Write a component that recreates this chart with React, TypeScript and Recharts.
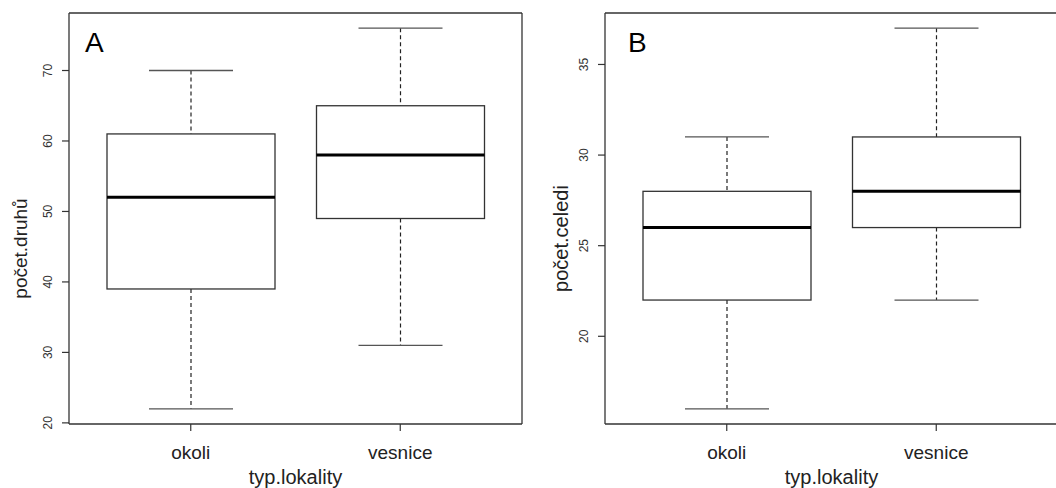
import React from 'react';
import { ComposedChart, Bar, XAxis, YAxis, Label } from 'recharts';

const categories = ['okoli', 'vesnice'];

const druhyMin = [22, 31];
const druhyQ1 = [39, 49];
const druhyMedian = [52, 58];
const druhyQ3 = [61, 65];
const druhyMax = [70, 76];
const druhyTicks = [20, 30, 40, 50, 60, 70];

const celediMin = [16, 22];
const celediQ1 = [22, 26];
const celediMedian = [26, 28];
const celediQ3 = [28, 31];
const celediMax = [31, 37];
const celediTicks = [20, 25, 30, 35];

const FONT = '"Liberation Sans", Arial, sans-serif';

const build = (mn: number[], q1: number[], md: number[], q3: number[], mx: number[]) =>
  categories.map((name, i) => ({ name, min: mn[i], q1: q1[i], median: md[i], q3: q3[i], max: mx[i] }));

const druhyData = build(druhyMin, druhyQ1, druhyMedian, druhyQ3, druhyMax);
const celediData = build(celediMin, celediQ1, celediMedian, celediQ3, celediMax);

const rDomain = (mn: number[], mx: number[]): [number, number] => {
  const lo = Math.min(...mn);
  const hi = Math.max(...mx);
  const pad = (hi - lo) * 0.04;
  return [lo - pad, hi + pad];
};

const BoxShape = (props: any) => {
  const { x, y, width, height, payload } = props;
  if (!payload) return null;
  const { min, q1, median, q3, max } = payload;
  const py = (v: number) => y + ((max - v) / (max - min)) * height;
  const cx = x + width / 2;
  const capHalf = width / 4;
  return (
    <g>
      <line x1={cx} x2={cx} y1={py(max)} y2={py(q3)} stroke="#222" strokeWidth={1.2} strokeDasharray="4 3" />
      <line x1={cx} x2={cx} y1={py(q1)} y2={py(min)} stroke="#222" strokeWidth={1.2} strokeDasharray="4 3" />
      <line x1={cx - capHalf} x2={cx + capHalf} y1={py(max)} y2={py(max)} stroke="#555" strokeWidth={1.3} />
      <line x1={cx - capHalf} x2={cx + capHalf} y1={py(min)} y2={py(min)} stroke="#555" strokeWidth={1.3} />
      <rect x={x} y={py(q3)} width={width} height={py(q1) - py(q3)} fill="#fff" stroke="#333" strokeWidth={1.3} />
      <line x1={x} x2={x + width} y1={py(median)} y2={py(median)} stroke="#000" strokeWidth={3} />
    </g>
  );
};

const YTick = (props: any) => {
  const { x, y, payload } = props;
  return (
    <text transform={`translate(${x - 8},${y}) rotate(-90)`} textAnchor="middle" fontSize={12} fill="#333" fontFamily={FONT}>
      {payload.value}
    </text>
  );
};

const XTick = (props: any) => {
  const { x, y, payload } = props;
  return (
    <text x={x} y={y + 26} textAnchor="middle" fontSize={19} fill="#222" fontFamily={FONT}>
      {payload.value}
    </text>
  );
};

type PanelProps = {
  data: any[];
  ticks: number[];
  domain: [number, number];
  yTitle: string;
  letter: string;
  titleX: number;
  titleDy: number;
  titleSize: number;
  letterDx: number;
};

const Panel = ({ data, ticks, domain, yTitle, letter, titleX, titleDy, titleSize, letterDx }: PanelProps) => (
  <ComposedChart width={528} height={488} data={data} margin={{ top: 12, right: 5, bottom: 0, left: 0 }}>
    <XAxis
      dataKey="name"
      xAxisId="main"
      height={64}
      padding={{ left: 17, right: 17 }}
      tickSize={7}
      tickMargin={2}
      tick={<XTick />}
      axisLine={{ stroke: '#333', strokeWidth: 1.3 }}
      tickLine={{ stroke: '#333', strokeWidth: 1.2 }}
    >
      <Label
        position="insideBottom"
        content={(p: any) => {
          const vb = p.viewBox || {};
          return (
            <text x={vb.x + vb.width / 2} y={vb.y + vb.height - 4} textAnchor="middle" fontSize={20} fill="#222" fontFamily={FONT}>
              typ.lokality
            </text>
          );
        }}
      />
    </XAxis>
    <XAxis
      dataKey="name"
      xAxisId="top"
      orientation="top"
      height={1}
      tick={false}
      tickLine={false}
      axisLine={{ stroke: '#333', strokeWidth: 1.3 }}
    >
      <Label
        position="insideTopLeft"
        content={(p: any) => {
          const vb = p.viewBox || {};
          return (
            <text x={vb.x + letterDx} y={vb.y + vb.height + 39} fontSize={28} fill="#000" fontFamily={FONT}>
              {letter}
            </text>
          );
        }}
      />
    </XAxis>
    <YAxis
      yAxisId="main"
      type="number"
      domain={domain}
      ticks={ticks}
      interval={0}
      allowDataOverflow
      width={69}
      tickSize={7}
      tickMargin={2}
      tick={<YTick />}
      axisLine={{ stroke: '#333', strokeWidth: 1.3 }}
      tickLine={{ stroke: '#333', strokeWidth: 1.2 }}
    >
      <Label
        content={(p: any) => {
          const vb = p.viewBox || {};
          return (
            <text
              transform={`translate(${vb.x + titleX},${vb.y + vb.height / 2 + titleDy}) rotate(-90)`}
              textAnchor="middle"
              fontSize={titleSize}
              fill="#222"
              fontFamily={FONT}
            >
              {yTitle}
            </text>
          );
        }}
      />
    </YAxis>
    <YAxis
      yAxisId="right"
      orientation="right"
      type="number"
      domain={domain}
      width={1}
      tick={false}
      tickLine={false}
      axisLine={{ stroke: '#333', strokeWidth: 1.3 }}
    />
    <Bar
      xAxisId="main"
      yAxisId="main"
      dataKey={(d: any) => [d.min, d.max]}
      barSize={168}
      shape={<BoxShape />}
      isAnimationActive={false}
    />
  </ComposedChart>
);

export default function App() {
  return (
    <div style={{ position: 'absolute', left: 0, top: 0, width: 1056, height: 488, overflow: 'hidden', background: '#fff' }}>
      <div style={{ position: 'absolute', left: 0, top: 0 }}>
        <Panel
          data={druhyData}
          ticks={druhyTicks}
          domain={rDomain(druhyMin, druhyMax)}
          yTitle="počet.druhů"
          letter="A"
          titleX={27}
          titleDy={30}
          titleSize={19}
          letterDx={16}
        />
      </div>
      <div style={{ position: 'absolute', left: 536, top: 0 }}>
        <Panel
          data={celediData}
          ticks={celediTicks}
          domain={rDomain(celediMin, celediMax)}
          yTitle="počet.celedi"
          letter="B"
          titleX={32}
          titleDy={20}
          titleSize={20}
          letterDx={23}
        />
      </div>
    </div>
  );
}
